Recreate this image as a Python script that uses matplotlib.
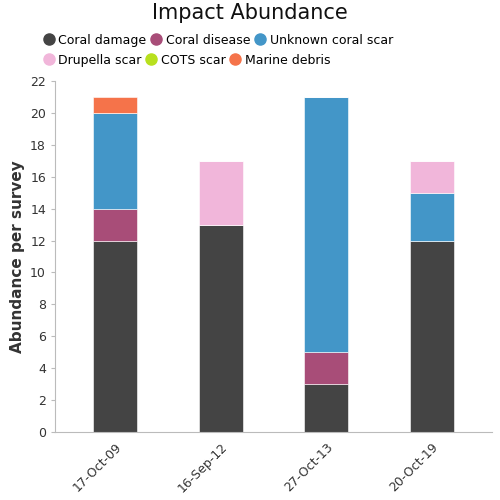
import numpy as np
import matplotlib.pyplot as plt
from matplotlib.lines import Line2D

dates = ['17-Oct-09', '16-Sep-12', '27-Oct-13', '20-Oct-19']
categories = ['Coral damage', 'Coral disease', 'Unknown coral scar',
              'Drupella scar', 'COTS scar', 'Marine debris']
colors = ['#444444', '#a84d78', '#4396c8', '#f1b6da', '#b8e01e', '#f5734a']

coral_damage = [12, 13, 3, 12]
coral_disease = [2, 0, 2, 0]
unknown_scar = [6, 0, 16, 3]
drupella_scar = [0, 4, 0, 2]
cots_scar = [0, 0, 0, 0]
marine_debris = [1, 0, 0, 0]
series = [coral_damage, coral_disease, unknown_scar, drupella_scar, cots_scar, marine_debris]

fig = plt.figure(figsize=(5, 5), dpi=100)
ax = fig.add_axes([0.11, 0.136, 0.874, 0.702])

x = np.arange(len(dates))
bottom = np.zeros(len(dates))
for vals, col in zip(series, colors):
    vals = np.array(vals, dtype=float)
    ax.bar(x, vals, 0.42, bottom=bottom, color=col, edgecolor='white', linewidth=0.4)
    bottom += vals

ax.set_xlim(-0.57, len(dates) - 0.43)
ax.set_ylim(0, 22)
ax.set_yticks(np.arange(0, 23, 2))
ax.set_xticks(x)
ax.set_xticklabels(dates, rotation=45, ha='right', rotation_mode='anchor', fontsize=9, color='#333333')
ax.tick_params(axis='y', labelsize=9, colors='#333333', length=3, color='#bbbbbb')
ax.tick_params(axis='x', length=0, pad=6)
for s in ['top', 'right']:
    ax.spines[s].set_visible(False)
for s in ['left', 'bottom']:
    ax.spines[s].set_color('#bbbbbb')
ax.set_ylabel('Abundance per survey', fontsize=11, fontweight='bold', color='#333333')

fig.text(0.5, 0.974, 'Impact Abundance', ha='center', va='center', fontsize=15, color='#111111')

# two legend rows, each flowing left to right
handles = [Line2D([], [], marker='o', linestyle='', markersize=8, color=c) for c in colors]
leg_kw = dict(loc='upper left', ncol=3, frameon=False, fontsize=9, handletextpad=0.3,
              columnspacing=0.25, handlelength=1.0)
fig.legend(handles[:3], categories[:3], bbox_to_anchor=(0.062, 0.955), **leg_kw)
fig.legend(handles[3:], categories[3:], bbox_to_anchor=(0.062, 0.915), **leg_kw)

plt.savefig('out.png', dpi=100)
